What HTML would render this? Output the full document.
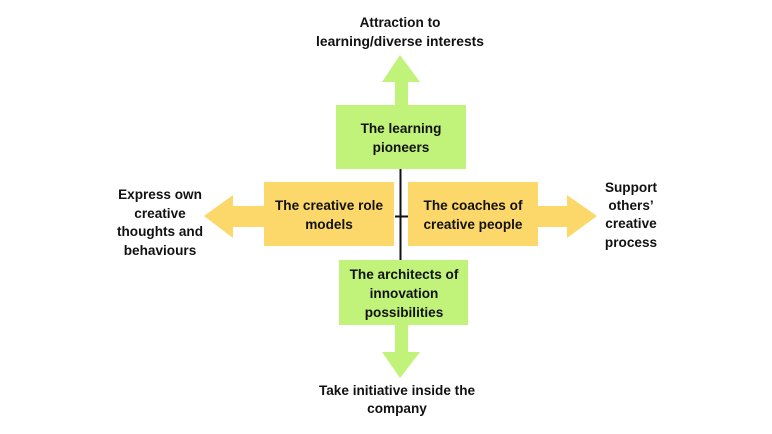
<!DOCTYPE html>
<html><head><style>
html,body{margin:0;padding:0;background:#fff;}
svg{display:block;}
text{font-family:"Liberation Sans",sans-serif;font-weight:bold;font-size:13.6px;fill:#111;text-anchor:middle;}
</style></head><body>
<svg width="772" height="434" viewBox="0 0 772 434" xmlns="http://www.w3.org/2000/svg">
<rect width="772" height="434" fill="#fff"/>
<polygon points="400,55 420,82 408,82 408,106 395,106 395,82 382,82" fill="#c1f37a"/>
<polygon points="395,324 408,324 408,352 420,352 400,378 382,352 395,352" fill="#c1f37a"/>
<polygon points="204,216 233,195 233,206 265,206 265,227 233,227 233,238" fill="#fcd86a"/>
<polygon points="597,216 567,195 567,206 537,206 537,227 567,227 567,238" fill="#fcd86a"/>
<rect x="336" y="105" width="130" height="64" fill="#c1f37a"/>
<rect x="339" y="260" width="129" height="65" fill="#c1f37a"/>
<rect x="264" y="182" width="130" height="64" fill="#fcd86a"/>
<rect x="408" y="182" width="130" height="64" fill="#fcd86a"/>
<line x1="400.5" y1="169" x2="400.5" y2="260" stroke="#111" stroke-width="2"/>
<line x1="395" y1="216.5" x2="408" y2="216.5" stroke="#111" stroke-width="2"/>
<text x="401" y="133">The learning</text>
<text x="401" y="152">pioneers</text>
<text x="329" y="210">The creative role</text>
<text x="329" y="229">models</text>
<text x="473" y="210">The coaches of</text>
<text x="473" y="229">creative people</text>
<text x="404" y="279">The architects of</text>
<text x="404" y="298">innovation</text>
<text x="404" y="317">possibilities</text>
<text x="400" y="27">Attraction to</text>
<text x="400" y="46" textLength="168" lengthAdjust="spacingAndGlyphs">learning/diverse interests</text>
<text x="160" y="199">Express own</text>
<text x="160" y="218">creative</text>
<text x="160" y="236">thoughts and</text>
<text x="160" y="255">behaviours</text>
<text x="631" y="192">Support</text>
<text x="631" y="210">others’</text>
<text x="631" y="228">creative</text>
<text x="631" y="247">process</text>
<text x="397" y="395">Take initiative inside the</text>
<text x="397" y="413">company</text>
</svg>
</body></html>
